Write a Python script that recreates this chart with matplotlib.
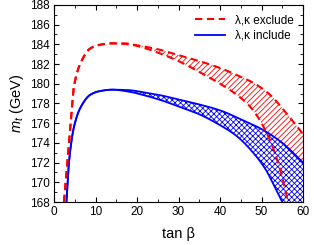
import numpy as np
import matplotlib
matplotlib.use('Agg')
import matplotlib.pyplot as plt

plt.rcParams['font.family'] = ['Liberation Sans', 'DejaVu Sans']
plt.rcParams['mathtext.fontset'] = 'custom'
plt.rcParams['mathtext.it'] = 'Liberation Sans:italic'
plt.rcParams['mathtext.rm'] = 'Liberation Sans'
plt.rcParams['hatch.linewidth'] = 0.6

# -----------------------------------------------------------------------------
# red band (lambda, kappa excluded)
red_x_up = [2.4, 3.2, 4.0, 4.8, 6.4, 8.8, 11, 14, 17, 20, 25, 30, 35, 40,
            45, 48, 52, 56, 60]
red_y_up = [168, 172, 176, 179.7, 182.1, 183.6, 183.95, 184.1, 184.1, 183.9,
            183.5, 182.9, 182.3, 181.6, 180.7, 180.1, 178.9, 177.0, 174.9]
red_x_lo = [2.4, 3.2, 4.0, 4.8, 6.4, 8.8, 11, 14, 18, 22, 26, 30, 35, 40,
            43, 46, 48, 50, 52, 54.5, 56.4]
red_y_lo = [168, 172, 176, 179.7, 182.1, 183.6, 183.95, 184.1, 184.0, 183.6,
            183.0, 182.3, 181.2, 180.0, 179.2, 178.2, 177.3, 176.0, 174.3,
            171.3, 168]

# blue band (lambda, kappa included)
blue_x_up = [3.0, 3.6, 4.8, 6.4, 8.8, 11, 14, 18, 22, 26, 30, 35, 40, 45,
             50, 55, 60]
blue_y_up = [168, 172, 175.6, 177.6, 178.9, 179.25, 179.4, 179.35, 179.1,
             178.8, 178.4, 177.9, 177.3, 176.4, 175.4, 174.0, 172.0]
blue_x_lo = [3.0, 3.6, 4.8, 6.4, 8.8, 11, 14, 18, 22, 26, 30, 35, 40, 44,
             48, 51, 53, 55]
blue_y_lo = [168, 172, 175.6, 177.6, 178.9, 179.25, 179.4, 179.2, 178.8,
             178.3, 177.7, 176.9, 175.8, 174.7, 173.0, 171.3, 169.7, 168]

labels = [u'\u03bb,\u03ba exclude', u'\u03bb,\u03ba include']
# -----------------------------------------------------------------------------


def pchip(x, y, xs):
    '''
    monotone cubic interpolation (Fritsch-Carlson), so the read-off points
    are joined by smooth curves
    '''
    x = np.asarray(x, float)
    y = np.asarray(y, float)
    h = np.diff(x)
    d = np.diff(y) / h
    m = np.zeros_like(y)
    for k in range(1, len(x) - 1):
        if d[k - 1] * d[k] > 0:
            w1 = 2 * h[k] + h[k - 1]
            w2 = h[k] + 2 * h[k - 1]
            m[k] = (w1 + w2) / (w1 / d[k - 1] + w2 / d[k])
    m[0] = d[0]
    m[-1] = d[-1]
    idx = np.clip(np.searchsorted(x, xs) - 1, 0, len(x) - 2)
    t = (xs - x[idx]) / h[idx]
    h00 = 2 * t**3 - 3 * t**2 + 1
    h10 = t**3 - 2 * t**2 + t
    h01 = -2 * t**3 + 3 * t**2
    h11 = t**3 - t**2
    return (h00 * y[idx] + h10 * h[idx] * m[idx] + h01 * y[idx + 1] +
            h11 * h[idx] * m[idx + 1])


def smooth(x, y):
    xs = np.linspace(x[0], x[-1], 500)
    return xs, pchip(x, y, xs)


def band(ax, xu, yu, xl, yl, color, hatch):
    xs = np.linspace(min(xu[0], xl[0]), 60, 600)
    up = pchip(xu, yu, np.clip(xs, xu[0], xu[-1]))
    lo = np.where(xs <= xl[-1], pchip(xl, yl, np.clip(xs, xl[0], xl[-1])),
                  160)
    ax.fill_between(xs, lo, up, facecolor='white', edgecolor=color,
                    hatch=hatch, linewidth=0, zorder=2)


fig = plt.figure(figsize=(3.14, 2.45), dpi=100)
ax = fig.add_axes([0.172, 0.1755, 0.793, 0.8045])

band(ax, red_x_up, red_y_up, red_x_lo, red_y_lo, 'red', '//////')
band(ax, blue_x_up, blue_y_up, blue_x_lo, blue_y_lo, 'blue', 'xxxxxx')

dash = (0, (3.5, 2.2))
ax.plot(*smooth(red_x_up, red_y_up), color='red', ls=dash, lw=1.5,
        zorder=4, label=labels[0])
ax.plot(*smooth(red_x_lo, red_y_lo), color='red', ls=dash, lw=1.5, zorder=4)
ax.plot(*smooth(blue_x_up, blue_y_up), color='blue', lw=1.3, zorder=3,
        label=labels[1])
ax.plot(*smooth(blue_x_lo, blue_y_lo), color='blue', lw=1.3, zorder=3)

ax.set_xlim(0, 60)
ax.set_ylim(168, 188)
ax.set_xticks(range(0, 61, 10))
ax.set_xticks(range(0, 61, 5), minor=True)
ax.set_yticks(range(168, 189, 2))
ax.set_yticks(range(168, 189, 1), minor=True)
ax.tick_params(which='both', direction='in', top=True, right=True,
               labelsize=8.5, pad=3)
ax.tick_params(which='major', length=3.5)
ax.tick_params(which='minor', length=2)

ax.set_xlabel(u'tan \u03b2', fontsize=10.5, labelpad=6)
ax.set_ylabel(r'$m_t$ (GeV)', fontsize=10.5, labelpad=3)

ax.legend(loc='upper right', frameon=False, fontsize=8.5, handlelength=2.6,
          borderaxespad=0.4, labelspacing=0.3)

fig.savefig('out.png', dpi=100)
